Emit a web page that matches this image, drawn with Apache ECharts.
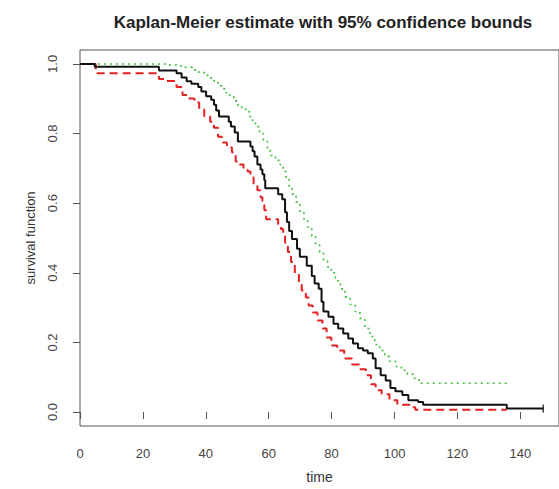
<!DOCTYPE html>
<html>
<head>
<meta charset="utf-8">
<script src="https://cdn.jsdelivr.net/npm/echarts@6/dist/echarts.min.js"></script>
<style>
html,body{margin:0;padding:0;background:#fff;}
#chart{width:559px;height:489px;}
</style>
</head>
<body>
<div id="chart"></div>
<script>
// Kaplan-Meier estimate (black, solid)
var kmTime = [0,4.7,25.1,30.7,32.3,33.9,35.4,37.6,38.6,40.1,41.7,42.6,43.3,44.2,47.3,48.0,49.2,50.2,54.2,54.9,55.5,56.4,57.4,58.0,58.6,58.9,63.0,64.3,65.2,65.8,66.5,67.4,69.0,69.9,72.1,73.7,74.6,75.9,76.8,77.4,79.0,80.6,82.1,83.7,85.3,86.8,88.4,90.0,91.5,93.1,94.0,95.6,97.2,98.7,100.3,102.5,104.4,107.5,109.1,135.7,147.3];
var kmSurv = [1,0.992,0.981,0.973,0.961,0.95,0.943,0.934,0.921,0.907,0.897,0.883,0.866,0.849,0.834,0.82,0.803,0.777,0.763,0.749,0.734,0.711,0.697,0.683,0.666,0.643,0.626,0.611,0.574,0.546,0.52,0.497,0.469,0.446,0.42,0.391,0.369,0.354,0.317,0.289,0.274,0.254,0.24,0.226,0.211,0.197,0.183,0.177,0.169,0.154,0.126,0.106,0.091,0.069,0.06,0.049,0.034,0.029,0.021,0.01,0.01];

// censored observation mark at the end of the curve
var censorTime = [147.3];
var censorSurv = [0.01];

// lower 95% bound (red, dashed)
var lowerTime = [0,5.0,25.1,27.6,30.7,32.6,34.5,36.4,37.9,39.5,41.4,42.6,43.9,45.1,46.7,48.3,49.5,50.8,52.0,53.3,54.2,55.2,56.4,57.4,58.0,58.6,59.2,63.0,63.9,64.6,65.2,66.1,67.1,68.3,69.6,70.5,71.8,72.7,74.0,75.5,77.1,78.4,79.9,81.8,84.0,86.5,88.7,90.9,92.5,94.0,95.9,98.4,100.9,105.0,106.6,135.7];
var lowerSurv = [1,0.973,0.957,0.951,0.934,0.911,0.901,0.889,0.869,0.849,0.834,0.817,0.791,0.774,0.76,0.746,0.72,0.711,0.697,0.691,0.674,0.654,0.637,0.617,0.603,0.58,0.554,0.54,0.526,0.506,0.486,0.46,0.431,0.397,0.371,0.349,0.329,0.306,0.286,0.263,0.24,0.214,0.191,0.177,0.154,0.137,0.123,0.106,0.08,0.063,0.051,0.034,0.021,0.014,0.007,0.007];

// upper 95% bound (green, dotted)
var upperTime = [0,28.2,31.3,33.5,35.7,37.6,39.5,41.1,42.6,43.9,45.1,46.4,47.6,48.9,50.2,51.4,52.7,53.9,54.9,55.8,57.1,58.3,59.6,60.5,62.1,63.6,64.6,65.5,66.5,67.4,68.7,69.9,71.2,72.4,73.7,74.9,76.2,77.4,78.7,79.9,81.2,82.8,84.3,85.9,87.5,89.0,90.6,92.2,93.7,95.3,96.9,98.4,100.3,102.2,104.1,106.0,107.8,135.7];
var upperSurv = [1,0.997,0.994,0.99,0.983,0.977,0.967,0.96,0.951,0.937,0.929,0.917,0.906,0.894,0.88,0.871,0.863,0.849,0.834,0.82,0.8,0.777,0.757,0.737,0.723,0.711,0.691,0.669,0.646,0.626,0.603,0.574,0.554,0.531,0.506,0.48,0.46,0.437,0.417,0.4,0.377,0.354,0.331,0.309,0.289,0.269,0.24,0.217,0.194,0.177,0.16,0.146,0.131,0.12,0.109,0.097,0.083,0.083];

var xTicks = [0,20,40,60,80,100,120,140];
var yTicks = [0,0.2,0.4,0.6,0.8,1.0];

var titleText = 'Kaplan-Meier estimate with 95% confidence bounds';
var xName = 'time';
var yName = 'survival function';

function pairs(t, s){ return t.map(function(v,i){ return [v, s[i]]; }); }

var chart = echarts.init(document.getElementById('chart'), null, {renderer:'svg'});
var FONT = 'Liberation Sans, Arial, sans-serif';
chart.setOption({
  animation:false,
  backgroundColor:'#ffffff',
  graphic:[{
    type:'text',
    style:{text:titleText, x:323, y:22, textAlign:'center', textVerticalAlign:'middle',
      font:'bold 17px Liberation Sans, Arial, sans-serif', fill:'#222'}
  }],
  grid:{left:80, top:50, bottom:61, right:-7, show:true, borderColor:'#555', borderWidth:1, backgroundColor:'transparent'},
  xAxis:{
    type:'value', min:0, max:152.3,
    name:xName, nameLocation:'middle', nameGap:44,
    nameTextStyle:{fontFamily:FONT, fontSize:14, color:'#333'},
    axisLine:{show:false},
    splitLine:{show:false},
    axisTick:{show:true, length:7, customValues:xTicks, lineStyle:{color:'#555'}},
    axisLabel:{customValues:xTicks, fontFamily:FONT, fontSize:13, color:'#444', margin:21}
  },
  yAxis:{
    type:'value', min:-0.04, max:1.04,
    name:yName, nameLocation:'middle', nameGap:43,
    nameTextStyle:{fontFamily:FONT, fontSize:13, color:'#333'},
    axisLine:{show:false},
    splitLine:{show:false},
    axisTick:{show:true, length:7, customValues:yTicks, lineStyle:{color:'#555'}},
    axisLabel:{customValues:yTicks, rotate:90, fontFamily:FONT, fontSize:13, color:'#444', margin:21,
      formatter:function(v){ return v.toFixed(1); }}
  },
  series:[
    {type:'line', step:'end', showSymbol:false, data:pairs(upperTime, upperSurv), z:2,
      lineStyle:{color:'#3cbf3c', width:1.6, type:[2,4]}},
    {type:'line', step:'end', showSymbol:false, data:pairs(lowerTime, lowerSurv), z:3,
      lineStyle:{color:'#e42020', width:2, type:[8,5]}},
    {type:'line', step:'end', showSymbol:false, data:pairs(kmTime, kmSurv), z:4,
      lineStyle:{color:'#111', width:2}},
    {type:'scatter', data:pairs(censorTime, censorSurv), symbol:'rect', symbolSize:[1.5,8], z:5,
      itemStyle:{color:'#111'}}
  ]
});
</script>
</body>
</html>
